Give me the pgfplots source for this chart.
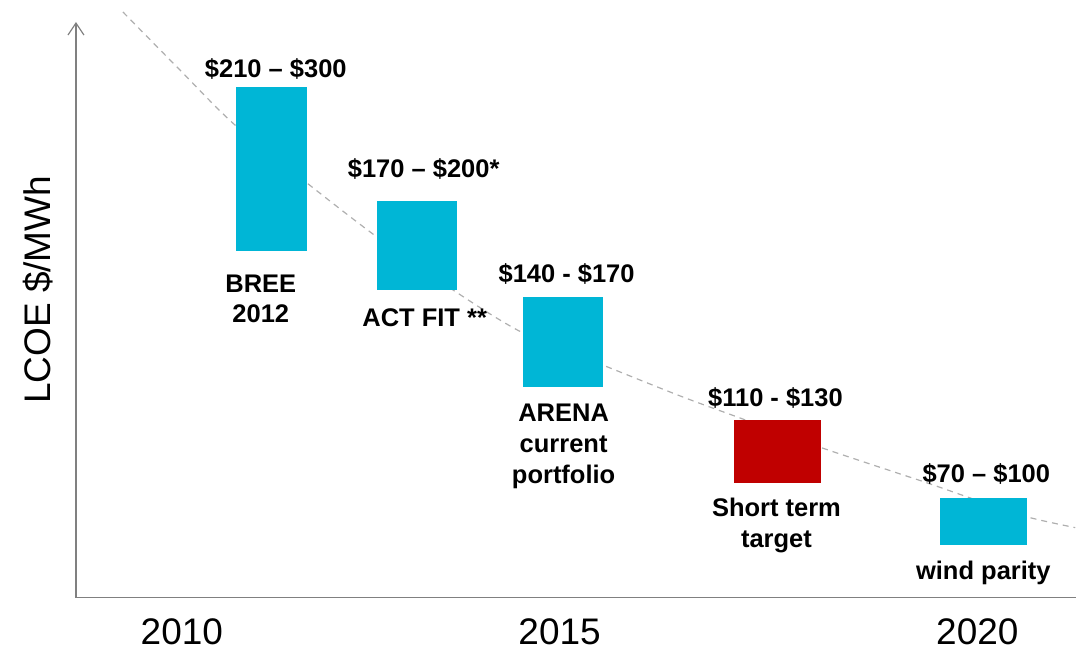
\documentclass[border=0pt]{standalone}
\usepackage{pgfplots}
\pgfplotsset{compat=1.18}
\usetikzlibrary{arrows.meta}
\usepackage{fontspec}
\setmainfont{Liberation Sans}
\definecolor{barcyan}{RGB}{0,182,214}
\definecolor{barred}{RGB}{192,0,0}
\definecolor{axgray}{RGB}{128,128,128}
\definecolor{curvegray}{RGB}{175,175,175}
\newcommand{\lab}{\bfseries\fontsize{12.75}{15.5}\selectfont}
\begin{document}
\begin{tikzpicture}
\begin{axis}[
  scale only axis,
  width=500.5pt, height=288pt,
  xmin=76, xmax=1077, ymin=53, ymax=629,
  clip=false,
  axis x line=bottom, axis y line=left,
  x axis line style={-, draw=axgray, line width=0.75pt},
  y axis line style={-{Straight Barb[length=6pt,width=8pt,line width=0.6pt]}, draw=axgray, line width=0.75pt},
  ytick=\empty,
  xtick={182,560,978},
  xticklabels={2010,2015,2020},
  major tick length=0pt,
  xticklabel style={anchor=north, inner sep=0pt, yshift=-10.5pt, font=\fontsize{18.5}{20}\selectfont},
  ylabel={LCOE \$/MWh},
  every axis y label/.style={at={(axis cs:38,361)}, rotate=90, anchor=center, font=\fontsize{18.5}{20}\selectfont},
]
% invisible frame fixing the picture size (1077 x 651 px)
\path (axis cs:0,0) rectangle (axis cs:1077,651);

% trend curve (dashed)
\addplot[curvegray, line width=0.6pt, dash pattern=on 3pt off 2.5pt, smooth, tension=0.5] coordinates {
 (123,639) (180,581) (235,526) (307,468) (377,414) (453,361) (523,318)
 (600,287) (680,255) (737,234) (822,203) (927,168) (970,153) (1027,134) (1076,123)};

% floating bars (vertical position as drawn)
\addplot[fill=barcyan, draw=none] coordinates {(236,564) (307,564) (307,400) (236,400)};
\addplot[fill=barcyan, draw=none] coordinates {(377,450) (457,450) (457,361) (377,361)};
\addplot[fill=barcyan, draw=none] coordinates {(523,354) (603,354) (603,264) (523,264)};
\addplot[fill=barred,  draw=none] coordinates {(735,231) (822,231) (822,168) (735,168)};
\addplot[fill=barcyan, draw=none] coordinates {(941,153) (1028,153) (1028,106) (941,106)};

% value labels
\node[anchor=base, inner sep=0pt, font=\lab] at (axis cs:276,573) {\$210 – \$300};
\node[anchor=base, inner sep=0pt, font=\lab] at (axis cs:424,473) {\$170 – \$200*};
\node[anchor=base, inner sep=0pt, font=\lab] at (axis cs:567,368) {\$140 - \$170};
\node[anchor=base, inner sep=0pt, font=\lab] at (axis cs:776,244) {\$110 - \$130};
\node[anchor=base, inner sep=0pt, font=\lab] at (axis cs:987,168) {\$70 – \$100};

% category labels
\node[anchor=base, inner sep=0pt, font=\lab] at (axis cs:261,358) {BREE};
\node[anchor=base, inner sep=0pt, font=\lab] at (axis cs:261,328) {2012};
\node[anchor=base, inner sep=0pt, font=\lab] at (axis cs:425,324) {ACT FIT **};
\node[anchor=base, inner sep=0pt, font=\lab] at (axis cs:564,229) {ARENA};
\node[anchor=base, inner sep=0pt, font=\lab] at (axis cs:564,198) {current};
\node[anchor=base, inner sep=0pt, font=\lab] at (axis cs:564,167) {portfolio};
\node[anchor=base, inner sep=0pt, font=\lab] at (axis cs:777,134) {Short term};
\node[anchor=base, inner sep=0pt, font=\lab] at (axis cs:777,103) {target};
\node[anchor=base, inner sep=0pt, font=\lab] at (axis cs:984,71) {wind parity};
\end{axis}
\end{tikzpicture}
\end{document}
